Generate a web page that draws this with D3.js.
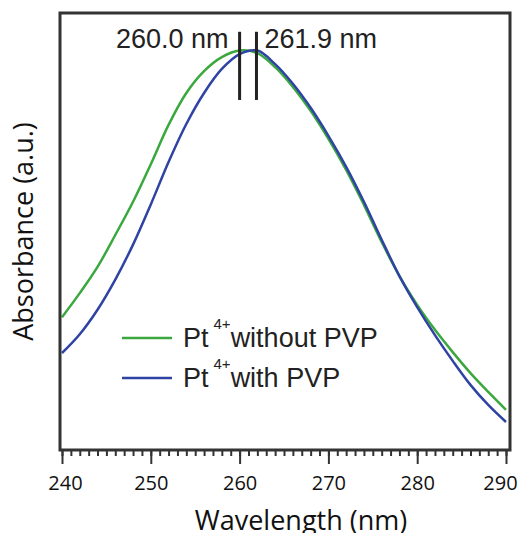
<!DOCTYPE html>
<meta charset="utf-8">
<script src="https://cdn.jsdelivr.net/npm/d3@7"></script>
<style>
  body { margin: 0; background: #fff; }
  .tick text { font-family: "Open Sans", sans-serif; font-size: 20px; fill: #111; }
  .tick line { stroke: #333; stroke-width: 2px; }
  .axis path { display: none; }
  .ann { font-family: "Liberation Sans", Arial, sans-serif; fill: #222; }
</style>
<body>
<div id="chart"></div>
<script>
// wavelength samples (nm)
var wavelength = [240,242,244,246,248,250,252,254,256,258,260,262,264,266,268,270,272,274,276,278,280,282,284,286,288,290];
// absorbance (a.u.)
var noPVP   = [0.304,0.359,0.419,0.492,0.568,0.654,0.744,0.817,0.867,0.899,0.914,0.908,0.876,0.831,0.776,0.712,0.641,0.561,0.476,0.398,0.332,0.275,0.224,0.176,0.133,0.092];
var withPVP = [0.222,0.265,0.321,0.390,0.470,0.562,0.659,0.746,0.817,0.872,0.906,0.914,0.883,0.838,0.783,0.719,0.648,0.568,0.481,0.398,0.327,0.263,0.204,0.149,0.103,0.064];
var majorTicks = [240,250,260,270,280,290];
var peaks = [260.0, 261.9];
var peakLabels = ["260.0 nm", "261.9 nm"];
var seriesNames = ["without PVP", "with PVP"];
var seriesColors = ["#3aa83e", "#2e43a3"];

var W = 521, H = 533;
var frame = {left: 60, right: 510, top: 13, bottom: 450};

svg = d3.select("#chart").append("svg")
  .attr("width", W)
  .attr("height", H)

x = d3.scaleLinear().domain([240, 290]).range([62, 506])
y = d3.scaleLinear().domain([0, 1]).range([frame.bottom, frame.top])

// minor ticks every 1 nm
minorAxis = d3.axisBottom(x)
  .tickValues(d3.range(240, 291, 1))
  .tickSize(6)
  .tickFormat("")
svg.append("g")
  .attr("class", "axis")
  .attr("transform", "translate(0," + frame.bottom + ")")
  .call(minorAxis)

majorAxis = d3.axisBottom(x)
  .tickValues(majorTicks)
  .tickSize(14)
  .tickPadding(12)
  .tickFormat(d3.format("d"))
xg = svg.append("g")
  .attr("class", "axis")
  .attr("transform", "translate(0," + frame.bottom + ")")
  .call(majorAxis)
// keep the end labels inside the picture
xg.selectAll(".tick text")
  .attr("dx", function(d){ return d == 240 ? 3 : (d == 290 ? -6 : 0); })

// curves
var series = [noPVP, withPVP];
line = d3.line()
  .x(function(d, i){ return x(wavelength[i]); })
  .y(function(d){ return y(d); })
  .curve(d3.curveCatmullRom.alpha(0.5))

svg.selectAll(".curve")
  .data(series)
  .enter()
  .append("path")
  .attr("class", "curve")
  .attr("d", line)
  .attr("fill", "none")
  .attr("stroke", function(d, i){ return seriesColors[i]; })
  .attr("stroke-width", 2.5)

// frame
svg.append("rect")
  .attr("x", frame.left)
  .attr("y", frame.top)
  .attr("width", frame.right - frame.left)
  .attr("height", frame.bottom - frame.top)
  .attr("fill", "none")
  .attr("stroke", "#333")
  .attr("stroke-width", 3)

// peak markers
svg.selectAll(".peak")
  .data(peaks)
  .enter()
  .append("line")
  .attr("x1", function(d){ return x(d); })
  .attr("x2", function(d){ return x(d); })
  .attr("y1", y(0.957))
  .attr("y2", y(0.801))
  .attr("stroke", "#222")
  .attr("stroke-width", 3)

svg.selectAll(".peakLabel")
  .data(peaks)
  .enter()
  .append("text")
  .attr("class", "ann")
  .attr("x", function(d, i){ return i == 0 ? x(d) - 11 : x(d) + 8; })
  .attr("y", 48)
  .attr("text-anchor", function(d, i){ return i == 0 ? "end" : "start"; })
  .style("font-size", "27px")
  .text(function(d, i){ return peakLabels[i]; })

// legend
legend = svg.selectAll(".legend")
  .data(seriesNames)
  .enter()
  .append("g")
  .attr("transform", function(d, i){ return "translate(122," + (338 + i * 40) + ")"; })

legend.append("line")
  .attr("x1", 0).attr("x2", 50)
  .attr("stroke", function(d, i){ return seriesColors[i]; })
  .attr("stroke-width", 2.5)

lt = legend.append("text")
  .attr("class", "ann")
  .attr("x", 61)
  .attr("y", 9)
  .style("font-size", "27px")
lt.append("tspan").text("Pt")
lt.append("tspan").attr("dx", 5).attr("dy", -18).style("font-size", "15px").text("4+")
lt.append("tspan").attr("dy", 18).text(function(d){ return d; })

// axis titles
svg.append("text")
  .attr("x", 301)
  .attr("y", 530)
  .attr("text-anchor", "middle")
  .style("font-family", "'Open Sans', sans-serif")
  .style("font-size", "27px")
  .attr("fill", "#111")
  .text("Wavelength (nm)")

svg.append("text")
  .attr("transform", "translate(33," + ((frame.top + frame.bottom) / 2) + ") rotate(-90)")
  .attr("text-anchor", "middle")
  .style("font-family", "'Open Sans', sans-serif")
  .style("font-size", "27px")
  .attr("fill", "#111")
  .text("Absorbance (a.u.)")
</script>
</body>
</html>
